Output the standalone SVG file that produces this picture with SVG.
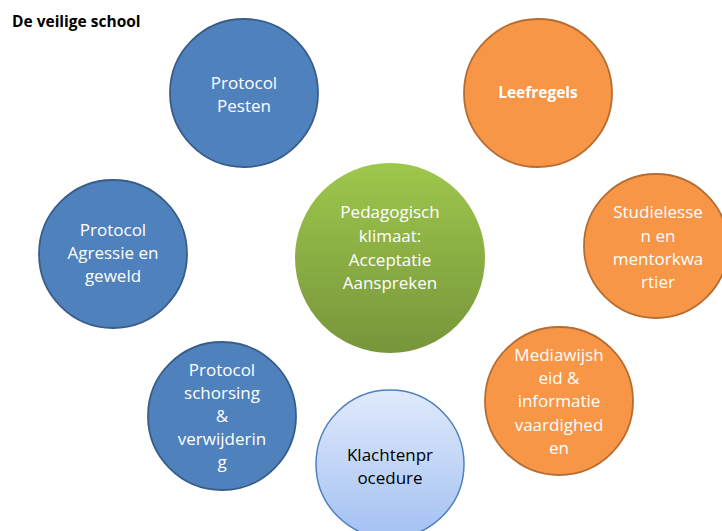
<svg xmlns="http://www.w3.org/2000/svg" width="722" height="531" viewBox="0 0 722 531">
<defs>
<linearGradient id="gGreen" x1="0" y1="0" x2="0" y2="1">
<stop offset="0" stop-color="#9EC74C"/>
<stop offset="1" stop-color="#77953B"/>
</linearGradient>
<linearGradient id="gLight" x1="0" y1="0" x2="0" y2="1">
<stop offset="0" stop-color="#E0EAFB"/>
<stop offset="1" stop-color="#A3C1F3"/>
</linearGradient>
<style>
.blue{fill:#4F81BD;stroke:#385D8A;stroke-width:1.8}
.orange{fill:#F79646;stroke:#B66D31;stroke-width:1.8}
.green{fill:url(#gGreen);stroke:none}
.light{fill:url(#gLight);stroke:#4F81BD;stroke-width:1.5}
.t{font-family:"Open Sans","Liberation Sans",sans-serif;font-size:17px;fill:#FFFFFF;text-anchor:middle}
.dark{fill:#000000}
.b{font-weight:bold;font-size:15.5px}
.title{font-family:"Open Sans","Liberation Sans",sans-serif;font-size:15.5px;font-weight:bold;fill:#000000}
</style>
</defs>
<text class="title" x="12" y="27">De veilige school</text>
<g id="connectors"></g>
<g id="pesten">
<circle class="blue" cx="244" cy="93" r="74"/>
<text class="t" x="244" y="89">Protocol</text>
<text class="t" x="244" y="112">Pesten</text>
</g>
<g id="leefregels">
<circle class="orange" cx="538" cy="93" r="74"/>
<text class="t b" x="538" y="98">Leefregels</text>
</g>
<g id="agressie">
<circle class="blue" cx="113" cy="254" r="74"/>
<text class="t" x="113" y="236">Protocol</text>
<text class="t" x="113" y="259">Agressie en</text>
<text class="t" x="113" y="282">geweld</text>
</g>
<g id="pedagogisch">
<circle class="green" cx="390" cy="258" r="95"/>
<text class="t" x="390" y="218">Pedagogisch</text>
<text class="t" x="390" y="242">klimaat:</text>
<text class="t" x="390" y="266">Acceptatie</text>
<text class="t" x="390" y="289">Aanspreken</text>
</g>
<g id="studielessen">
<circle class="orange" cx="656" cy="246" r="72"/>
<text class="t" x="658" y="218">Studielesse</text>
<text class="t" x="658" y="242">n en</text>
<text class="t" x="658" y="265">mentorkwa</text>
<text class="t" x="658" y="288">rtier</text>
</g>
<g id="schorsing">
<circle class="blue" cx="222" cy="416" r="74"/>
<text class="t" x="222" y="376">Protocol</text>
<text class="t" x="222" y="399">schorsing</text>
<text class="t" x="222" y="422">&amp;</text>
<text class="t" x="222" y="445">verwijderin</text>
<text class="t" x="222" y="468">g</text>
</g>
<g id="mediawijsheid">
<circle class="orange" cx="559" cy="401" r="74"/>
<text class="t" x="559" y="361">Mediawijsh</text>
<text class="t" x="559" y="384">eid &amp;</text>
<text class="t" x="559" y="407">informatie</text>
<text class="t" x="559" y="431">vaardighed</text>
<text class="t" x="559" y="454">en</text>
</g>
<g id="klachten">
<circle class="light" cx="390" cy="464" r="74"/>
<text class="t dark" x="390" y="461">Klachtenpr</text>
<text class="t dark" x="390" y="484">ocedure</text>
</g>
</svg>
